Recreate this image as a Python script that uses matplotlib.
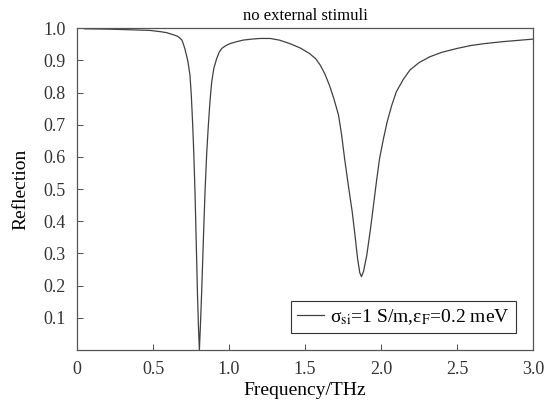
import numpy as np
import matplotlib
matplotlib.use('Agg')
import matplotlib.pyplot as plt

# values
freq = [0.05, 0.2, 0.35, 0.48, 0.55, 0.59, 0.63, 0.66, 0.675, 0.69, 0.70,
        0.71, 0.72, 0.73, 0.743, 0.752, 0.761, 0.769, 0.776, 0.784, 0.792,
        0.799, 0.805, 0.812, 0.820, 0.831, 0.842, 0.853, 0.864, 0.875,
        0.886, 0.90, 0.919, 0.935, 0.952, 0.98, 1.007, 1.05, 1.094, 1.15,
        1.204, 1.27, 1.33, 1.40, 1.47, 1.53, 1.57, 1.60, 1.63, 1.66, 1.69,
        1.72, 1.74, 1.76, 1.785, 1.81, 1.83, 1.845, 1.86, 1.871, 1.885,
        1.906, 1.93, 1.95, 1.97, 1.99, 2.015, 2.04, 2.07, 2.10, 2.145,
        2.19, 2.25, 2.32, 2.40, 2.50, 2.59, 2.68, 2.80, 2.90, 3.0]
refl = [0.998, 0.997, 0.995, 0.993, 0.989, 0.986, 0.980, 0.975, 0.970,
        0.963, 0.950, 0.935, 0.916, 0.895, 0.854, 0.79, 0.699, 0.60, 0.492,
        0.34, 0.181, 0.07, 0.0, 0.08, 0.181, 0.34, 0.492, 0.61, 0.699,
        0.775, 0.833, 0.875, 0.906, 0.925, 0.937, 0.946, 0.952, 0.958,
        0.963, 0.966, 0.968, 0.968, 0.963, 0.952, 0.938, 0.921, 0.905,
        0.885, 0.858, 0.823, 0.78, 0.730, 0.67, 0.595, 0.51, 0.43, 0.35,
        0.285, 0.24, 0.228, 0.245, 0.295, 0.375, 0.45, 0.525, 0.595, 0.655,
        0.709, 0.76, 0.802, 0.84, 0.870, 0.893, 0.911, 0.925, 0.937, 0.946,
        0.952, 0.958, 0.962, 0.966]
xticks = [0, 0.5, 1.0, 1.5, 2.0, 2.5, 3.0]
xlabels = ['0', '0.5', '1.0', '1.5', '2.0', '2.5', '3.0']
yticks = [0.1, 0.2, 0.3, 0.4, 0.5, 0.6, 0.7, 0.8, 0.9, 1.0]

plt.rcParams['font.family'] = ['Liberation Serif', 'DejaVu Serif']
plt.rcParams['mathtext.fontset'] = 'stix'

fig = plt.figure(figsize=(5.6, 4.08), dpi=100)
ax = fig.add_axes([0.1375, 0.142, 0.8145, 0.789])
ax.plot(freq, refl, color='#404040', lw=0.9,
        label=r'σ$_{\rm si}$=1 S/m,ε$_{\rm F}$=0.2 meV')
ax.set_xlim(0, 3.0)
ax.set_ylim(0, 1.0)
ax.set_xticks(xticks)
ax.set_xticklabels(xlabels)
ax.set_yticks(yticks)
ax.tick_params(direction='in', length=4, width=0.6, labelsize=13,
               colors='#333333', pad=8)
for s in ax.spines.values():
    s.set_color('#555555')
    s.set_linewidth(0.9)
ax.set_title('no external stimuli', fontsize=12, pad=6)
ax.set_xlabel('Frequency/THz', fontsize=14, labelpad=3)
ax.set_ylabel('Reflection', fontsize=14, labelpad=10)
leg = ax.legend(loc='lower right', fontsize=14, handlelength=1.4,
                handletextpad=0.3, fancybox=False, framealpha=1,
                borderaxespad=0.9, borderpad=0.3, edgecolor='#333333')
leg.get_frame().set_linewidth(0.8)

fig.savefig('out.png', dpi=100)
